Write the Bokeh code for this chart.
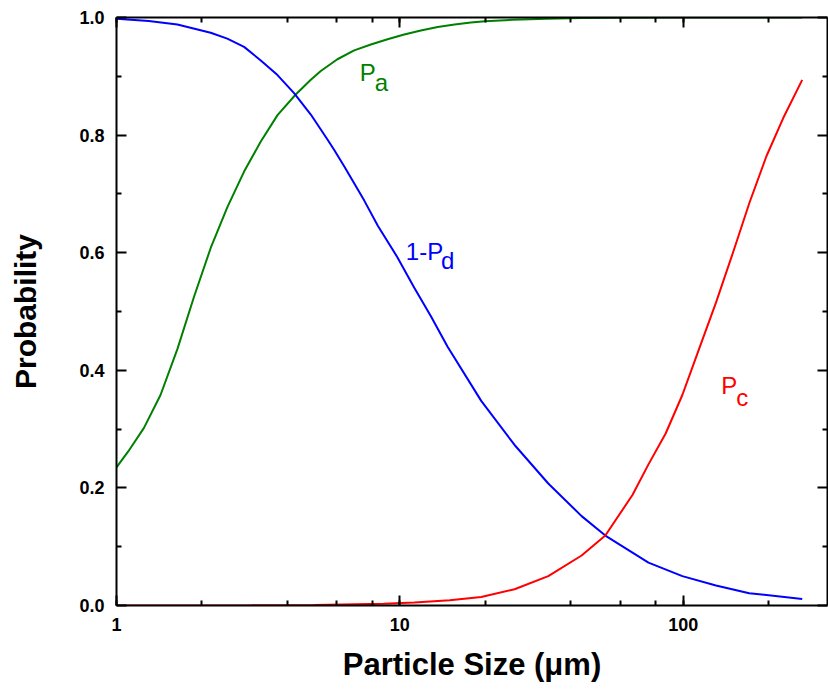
from bokeh.plotting import figure
from bokeh.models import (LogAxis, LinearAxis, FixedTicker, LogTicker, Label,
                          PrintfTickFormatter, Range1d)
from bokeh.embed import file_html
from bokeh.resources import INLINE

# P_a (green): particle size (um) and probability
pa_size = [1, 1.1, 1.25, 1.43, 1.64, 1.88, 2.15, 2.46, 2.82, 3.23, 3.70, 4.29,
           4.85, 5.26, 6.02, 6.90, 7.90, 9.05, 10.36, 11.86, 13.6, 15.6, 17.8,
           20, 25, 33, 44, 60, 100, 263]
pa_prob = [0.235, 0.262, 0.302, 0.358, 0.436, 0.526, 0.608, 0.677, 0.738,
           0.789, 0.834, 0.869, 0.894, 0.909, 0.929, 0.944, 0.954, 0.963,
           0.971, 0.978, 0.984, 0.988, 0.9915, 0.9935, 0.996, 0.998, 0.999,
           0.9997, 1.0, 1.0]

# 1 - P_d (blue)
pd_size = [1, 1.3, 1.64, 2.15, 2.46, 2.82, 3.23, 3.70, 4.24, 4.85, 5.56, 5.86,
           6.36, 7.48, 8.36, 9.81, 11.23, 12.87, 14.74, 19.37, 25.4, 33.4,
           43.8, 53.1, 75.4, 99.3, 130.5, 171, 263]
pd_prob = [0.998, 0.994, 0.988, 0.974, 0.964, 0.950, 0.927, 0.902, 0.871,
           0.835, 0.792, 0.775, 0.747, 0.689, 0.646, 0.592, 0.541, 0.492,
           0.440, 0.348, 0.273, 0.2075, 0.152, 0.119, 0.073, 0.050, 0.034,
           0.021, 0.011]

# P_c (red)
pc_size = [1, 3, 5, 8.76, 11.25, 15, 19.37, 25.4, 33.4, 43.8, 53.1, 66.2, 75.4,
           86.7, 99.3, 113.7, 130.5, 149.8, 171.3, 196.6, 225.4, 263]
pc_prob = [0.0, 0.0003, 0.001, 0.003, 0.005, 0.009, 0.0145, 0.0276, 0.050,
           0.085, 0.119, 0.188, 0.240, 0.2925, 0.358, 0.436, 0.515, 0.600,
           0.685, 0.764, 0.829, 0.894]

y_major = [0.0, 0.2, 0.4, 0.6, 0.8, 1.0]
y_minor = [0.1, 0.3, 0.5, 0.7, 0.9]

FONT = "Liberation Sans"

p = figure(width=828, height=692, x_axis_type="log",
           x_range=Range1d(1, 323), y_range=Range1d(0, 1),
           output_backend="svg", toolbar_location=None,
           min_border_left=116, min_border_right=1, min_border_top=17,
           min_border_bottom=87)
p.grid.visible = False
p.outline_line_color = None
p.background_fill_color = "white"

p.line(pa_size, pa_prob, line_color="#008000", line_width=2)
p.line(pd_size, pd_prob, line_color="#0000FF", line_width=2)
p.line(pc_size, pc_prob, line_color="#FF0000", line_width=2)


def style_axis(ax, show_labels):
    ax.axis_line_width = 2
    ax.axis_line_color = "black"
    ax.major_tick_in = 10
    ax.major_tick_out = 0
    ax.minor_tick_in = 5
    ax.minor_tick_out = 0
    ax.major_tick_line_width = 2
    ax.minor_tick_line_width = 2
    ax.major_label_text_font = FONT
    ax.major_label_text_font_style = "bold"
    ax.major_label_text_color = "black"
    if show_labels:
        ax.major_label_text_font_size = "18px"
        ax.major_label_standoff = 12
    else:
        ax.major_label_text_font_size = "1px"
        ax.major_label_text_alpha = 0
        ax.major_label_standoff = 0


xb = p.xaxis[0]
style_axis(xb, True)
xb.ticker = LogTicker()
xb.formatter = PrintfTickFormatter(format="%d")
xb.axis_label = "Particle Size (\u03bcm)"
xb.axis_label_text_font = FONT
xb.axis_label_text_font_style = "bold"
xb.axis_label_text_font_size = "31px"
xb.axis_label_text_color = "black"
xb.axis_label_standoff = 13

yl = p.yaxis[0]
style_axis(yl, True)
yl.ticker = FixedTicker(ticks=y_major, minor_ticks=y_minor)
yl.formatter = PrintfTickFormatter(format="%.1f")
yl.axis_label = "Probability"
yl.axis_label_text_font = FONT
yl.axis_label_text_font_style = "bold"
yl.axis_label_text_font_size = "30px"
yl.axis_label_text_color = "black"
yl.axis_label_standoff = 34

top = LogAxis(ticker=LogTicker())
style_axis(top, False)
p.add_layout(top, "above")
right = LinearAxis(ticker=FixedTicker(ticks=y_major, minor_ticks=y_minor))
style_axis(right, False)
p.add_layout(right, "right")


def curve_label(x, y, txt, color):
    p.add_layout(Label(x=x, y=y, text=txt, text_font=FONT,
                       text_font_size="24px", text_color=color,
                       text_baseline="alphabetic"))


curve_label(7.22, 0.906, "P", "#008000")
curve_label(8.16, 0.889, "a", "#008000")
curve_label(10.5, 0.602, "1-P", "#0000FF")
curve_label(13.96, 0.587, "d", "#0000FF")
curve_label(136.2, 0.374, "P", "#FF0000")
curve_label(153.9, 0.354, "c", "#FF0000")

open("out.html", "w").write(file_html(p, INLINE))
